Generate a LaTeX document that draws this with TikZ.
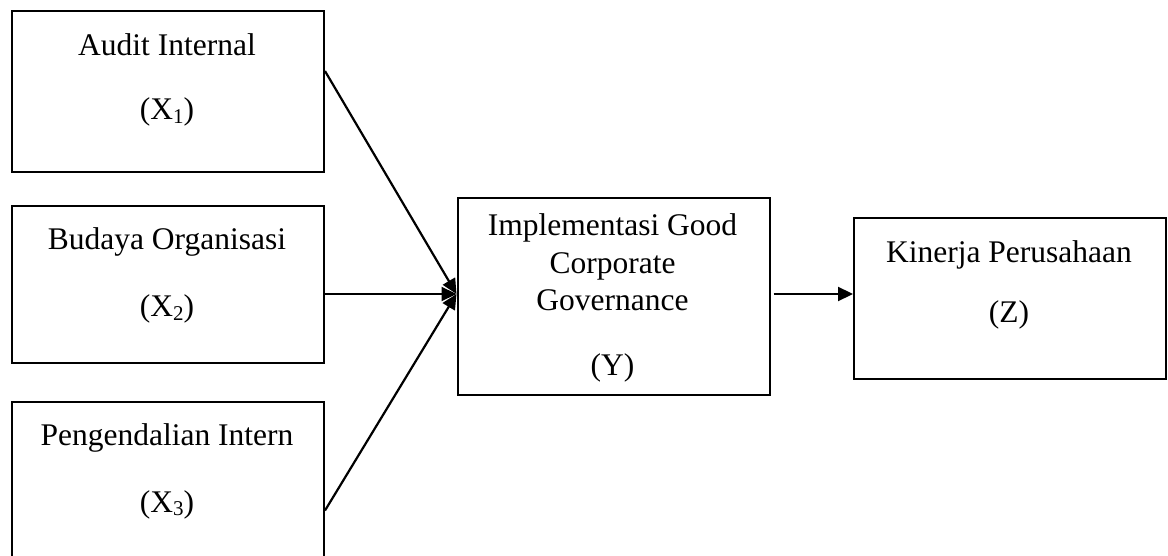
\documentclass[tikz,border=0pt]{standalone}
\usepackage{fontspec}
\setmainfont{Liberation Serif}
\usetikzlibrary{arrows.meta,calc}
\newcommand{\subdig}[1]{\raisebox{-0.12em}{\fontsize{21}{21}\selectfont #1}}
\tikzset{
  box/.style={draw, line width=2pt, rectangle, anchor=north west, inner sep=0pt},
  txt/.style={anchor=base, inner sep=0pt, font=\fontsize{31.5}{36}\selectfont},
  conn/.style={line width=2.2pt, -{Triangle[length=15pt,width=14pt]}}
}
\begin{document}
\begin{tikzpicture}[x=1pt,y=-1pt]
\useasboundingbox (0,0) rectangle (1168,556);
% boxes
\node[box, minimum width=312pt, minimum height=160.7pt] (x1) at (11,10) {};
\node[box, minimum width=312pt, minimum height=156.7pt] (x2) at (11,205) {};
\node[box, minimum width=312pt, minimum height=161pt] (x3) at (11,401) {};
\node[box, minimum width=312.5pt, minimum height=197pt] (y) at (456.5,197) {};
\node[box, minimum width=312pt, minimum height=161pt] (z) at (853,217) {};
% texts
\node[txt] (t1a) at (167,55.7) {Audit Internal};
\node[txt] (t1b) at (167,120) {(X\subdig{1})};
\node[txt] (t2a) at (167,250) {Budaya Organisasi};
\node[txt] (t2b) at (167,316.5) {(X\subdig{2})};
\node[txt] (t3a) at (167,445) {Pengendalian Intern};
\node[txt] (t3b) at (167,512) {(X\subdig{3})};
\node[txt] (tya) at (612.5,235.7) {Implementasi Good};
\node[txt] (tyb) at (612.5,273) {Corporate};
\node[txt] (tyc) at (612.5,310) {Governance};
\node[txt] (tyd) at (612.5,375) {(Y)};
\node[txt] (tza) at (1009,263) {Kinerja Perusahaan};
\node[txt] (tzb) at (1009,323) {(Z)};
% connectors
\coordinate (yin) at ([yshift=2.5pt]y.west);
\draw[conn] ([yshift=20.3pt]x1.east) -- (yin);
\draw[conn] (x2.east |- yin) -- (yin);
\draw[conn] ([yshift=-28pt]x3.east) -- (yin);
\draw[conn] ([xshift=2.5pt,yshift=2.5pt]y.east) -- ([yshift=2.5pt]y.east -| z.west);
\end{tikzpicture}
\end{document}
